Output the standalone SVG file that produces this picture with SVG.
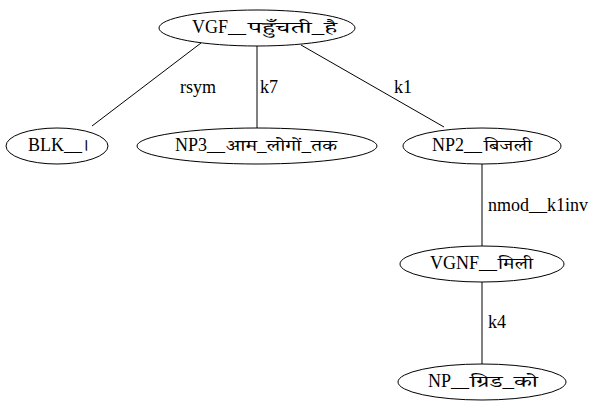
<svg xmlns="http://www.w3.org/2000/svg" width="600" height="411" viewBox="0 0 600 411">
  <style>
    .node ellipse { fill: none; stroke: #000; stroke-width: 1; }
    .edges line { stroke: #000; stroke-width: 1; }
    text { font-family: 'Liberation Serif', 'Times New Roman', serif; font-size: 18px; fill: #000; }
    text.dev { font-family: 'Noto Serif Devanagari', 'Noto Sans Devanagari', 'Liberation Serif', serif; font-size: 15.5px; }
  </style>
  <rect width="600" height="411" fill="#fff"/>
  <g class="edges">
    <line x1="201" y1="43" x2="92" y2="126"/>
    <text x="180" y="93">rsym</text>
    <line x1="257" y1="46" x2="257" y2="128"/>
    <text x="260" y="93">k7</text>
    <line x1="301" y1="45" x2="444" y2="127"/>
    <text x="394" y="93">k1</text>
    <line x1="482" y1="164" x2="482" y2="246"/>
    <text x="488" y="211">nmod__k1inv</text>
    <line x1="482" y1="282" x2="482" y2="364"/>
    <text x="488" y="328">k4</text>
  </g>
  <g id="node-vgf" class="node">
    <ellipse cx="257" cy="28" rx="98" ry="18"/>
    <text x="192" y="33">VGF__</text>
    <text class="dev" x="248" y="33" textLength="89" lengthAdjust="spacingAndGlyphs">पहुँचती_है</text>
  </g>
  <g id="node-blk" class="node">
    <ellipse cx="57" cy="146" rx="51" ry="18"/>
    <text x="28" y="151">BLK__</text>
    <text class="dev" x="82" y="151" style="font-size:18px">।</text>
  </g>
  <g id="node-np3" class="node">
    <ellipse cx="257" cy="146" rx="120" ry="18"/>
    <text x="175" y="151">NP3__</text>
    <text class="dev" x="226" y="151" textLength="111" lengthAdjust="spacingAndGlyphs">आम_लोगों_तक</text>
  </g>
  <g id="node-np2" class="node">
    <ellipse cx="482" cy="146" rx="79" ry="18"/>
    <text x="432" y="151">NP2__</text>
    <text class="dev" x="484" y="151" textLength="48" lengthAdjust="spacingAndGlyphs">बिजली</text>
  </g>
  <g id="node-vgnf" class="node">
    <ellipse cx="482" cy="264" rx="82" ry="18"/>
    <text x="430" y="269">VGNF__</text>
    <text class="dev" x="498" y="269" textLength="35" lengthAdjust="spacingAndGlyphs">मिली</text>
  </g>
  <g id="node-np" class="node">
    <ellipse cx="482" cy="382" rx="84" ry="18"/>
    <text x="428" y="387">NP__</text>
    <text class="dev" x="470" y="387" textLength="68" lengthAdjust="spacingAndGlyphs">ग्रिड_को</text>
  </g>
</svg>
